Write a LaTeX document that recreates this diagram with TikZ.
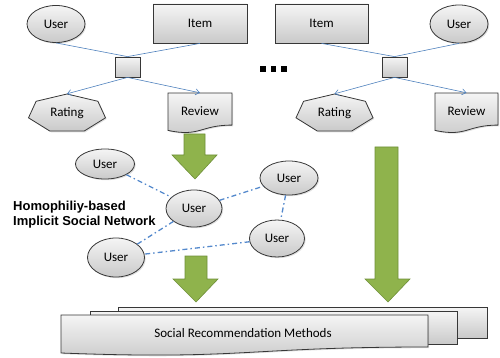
\documentclass[tikz,border=0pt]{standalone}
\usepackage{fontspec}
\setmainfont{Carlito}
\newfontfamily\arialf{Liberation Sans}
\usetikzlibrary{shapes.geometric,shadows,arrows.meta}
\definecolor{linkblue}{RGB}{79,129,189}
\definecolor{netblue}{RGB}{84,137,204}
\definecolor{arrgreen}{RGB}{143,179,76}
\definecolor{arrgreenb}{RGB}{110,143,56}
\definecolor{boxedge}{RGB}{55,55,55}
\tikzset{
  box/.style={top color=gray!8, bottom color=gray!42, draw=boxedge, line width=0.8pt,
    drop shadow={opacity=0.25, shadow xshift=1.2pt, shadow yshift=-1.2pt}},
  usr/.style={box, ellipse, inner sep=0pt, font=\fontsize{13}{15}\selectfont},
  itm/.style={box, rectangle, inner sep=0pt, minimum width=93pt, minimum height=39pt, font=\fontsize{13}{15}\selectfont},
  sqbox/.style={box, rectangle, inner sep=0pt, minimum width=25pt, minimum height=20pt},
  txt/.style={inner sep=0pt, font=\fontsize{13}{15}\selectfont},
  conn/.style={draw=linkblue, line width=0.6pt},
  connarr/.style={conn, -{Straight Barb[length=4pt,width=6pt]}},
  netedge/.style={draw=netblue, line width=1.3pt, dash pattern=on 5pt off 3pt on 1.5pt off 3pt},
  bigarrow/.style={fill=arrgreen, draw=arrgreenb, line width=0.6pt}
}
\newcommand{\heptshape}[2]{%
  \path[box, shift={(#1,#2)}] (0,-19.5) -- (30.9,-12.2) -- (38.5,4.3) -- (17.1,17.6)
    -- (-17.1,17.6) -- (-38.5,4.3) -- (-30.9,-12.2) -- cycle;}
\begin{document}
\begin{tikzpicture}[x=1pt,y=-1pt]
\useasboundingbox (0,0) rectangle (500,358);

% ---------- left group ----------
\node[usr, minimum width=58pt, minimum height=37pt] (u1) at (56,24) {User};
\node[itm, minimum width=94pt] (i1) at (200,23.5) {Item};
\node[sqbox] (s1) at (127.5,67) {};
\heptshape{67}{113.5}
\node[txt, minimum width=77pt, minimum height=39pt] (r1) at (67,113.5) {Rating};
\path[box] (168,93) -- (232,93) -- (232,125.1) .. controls (200,125.1) and (200,137.3) .. (168,130.4) -- cycle;
\node[txt, minimum width=64pt, minimum height=40pt] (v1) at (200,113) {\raisebox{3pt}{Review}};
\draw[conn] (u1.south) -- (s1.north);
\draw[conn] (i1.south) -- (s1.north);
\draw[connarr] (s1.south) -- (r1.north);
\draw[connarr] (s1.south) -- (v1.north);

% ---------- right group ----------
\node[itm] (i2) at (321.5,23.5) {Item};
\node[usr, minimum width=58pt, minimum height=38pt] (u2) at (459,24) {User};
\node[sqbox] (s2) at (394.5,67) {};
\heptshape{334.5}{113.5}
\node[txt, minimum width=77pt, minimum height=39pt] (r2) at (334.5,113.5) {Rating};
\path[box] (435,93) -- (498,93) -- (498,125.1) .. controls (466.5,125.1) and (466.5,137.3) .. (435,130.4) -- cycle;
\node[txt, minimum width=63pt, minimum height=40pt] (v2) at (466.5,113) {\raisebox{3pt}{Review}};
\draw[conn] (i2.south) -- (s2.north);
\draw[conn] (u2.south) -- (s2.north);
\draw[connarr] (s2.south) -- (r2.north);
\draw[connarr] (s2.south) -- (v2.north);

% dots
\fill (260,66.5) rectangle (265.5,72.5);
\fill (270.5,66.5) rectangle (276,72.5);
\fill (281,66.5) rectangle (286.5,72.5);

% ---------- green arrows ----------
\path[bigarrow] (184,134) -- (205,134) -- (205,155) -- (217,155) -- (195,179) -- (172,155) -- (184,155) -- cycle;
\path[bigarrow] (375,147) -- (398,147) -- (398,279) -- (410,279) -- (388,302) -- (365,279) -- (375,279) -- cycle;
\path[bigarrow] (185,256) -- (207,256) -- (207,279) -- (218,279) -- (196,302) -- (173,279) -- (185,279) -- cycle;

% ---------- network ----------
\node[usr, minimum width=59pt, minimum height=30pt] (n1) at (105,164) {User};
\node[usr, minimum width=56pt, minimum height=37pt] (n2) at (194,208.5) {User};
\node[usr, minimum width=58pt, minimum height=34pt] (n3) at (289,178) {User};
\node[usr, minimum width=55pt, minimum height=37pt] (n4) at (277,238.5) {User};
\node[usr, minimum width=57pt, minimum height=39pt] (n5) at (116,257.5) {User};
\draw[netedge] (n1) -- (n2);
\draw[netedge] (n2) -- (n3);
\draw[netedge] (n2) -- (n5);
\draw[netedge] (n3) -- (n4);
\draw[netedge] (n4) -- (n5);

\node[inner sep=0pt, anchor=north west, align=left, font=\arialf\bfseries\fontsize{13}{15.5}\selectfont] (lbl) at (13,200.5) {Homophiliy-based\\Implicit Social Network};

% ---------- bottom stacked documents ----------
\path[box] (118,307) rectangle (487,338);
\path[box] (90,311) rectangle (457,344);
\path[box] (61,315) -- (428,315) -- (428,347) .. controls (244.5,347) and (244.5,360) .. (61,353) -- cycle;
\node[txt] (srm) at (243,333) {Social Recommendation Methods};
\end{tikzpicture}
\end{document}
